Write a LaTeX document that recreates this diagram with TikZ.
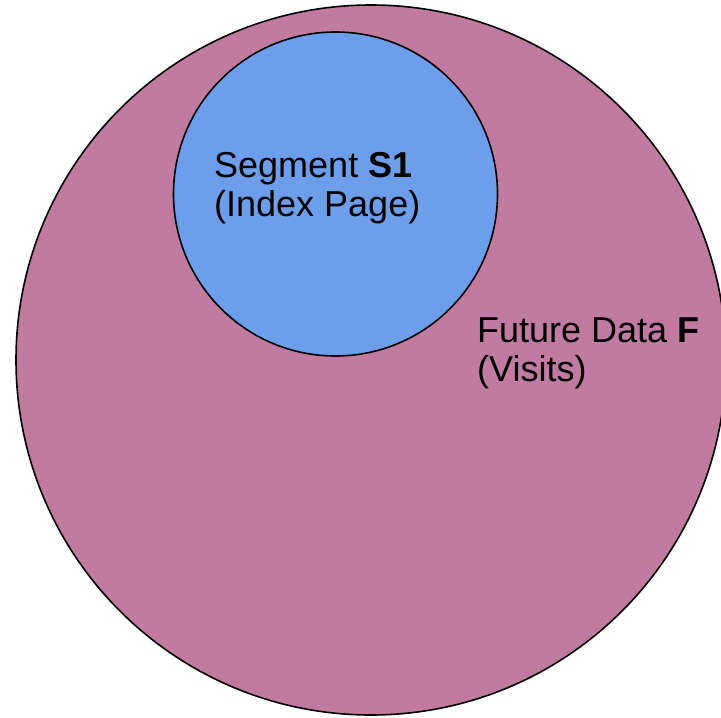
\documentclass[tikz,border=0pt]{standalone}
\usepackage{fontspec}
\setmainfont{Liberation Sans}
\definecolor{futurefill}{HTML}{C27BA0}
\definecolor{segfill}{HTML}{6D9EEB}
\begin{document}
\begin{tikzpicture}[x=1pt,y=-1pt,
  setcircle/.style={circle, draw=black, line width=1.6pt, inner sep=0pt},
  label/.style={anchor=base west, align=left, font=\fontsize{36}{39}\selectfont, inner sep=0pt}]
  \useasboundingbox (0,0) rectangle (721,718);
  \clip (0,0) rectangle (721,718);
  % outer set F
  \node[setcircle, fill=futurefill, minimum size=710pt] (F) at (371,360) {};
  % inner segment S1
  \node[setcircle, fill=segfill, minimum size=324pt] (S) at (335.5,194) {};
  % captions (base anchor sits on the last line)
  \node[label] (slabel) at (214,216) {Segment \textbf{S1}\\(Index Page)};
  \node[label] (flabel) at (477,381) {Future Data \textbf{F}\\(Visits)};
\end{tikzpicture}
\end{document}
